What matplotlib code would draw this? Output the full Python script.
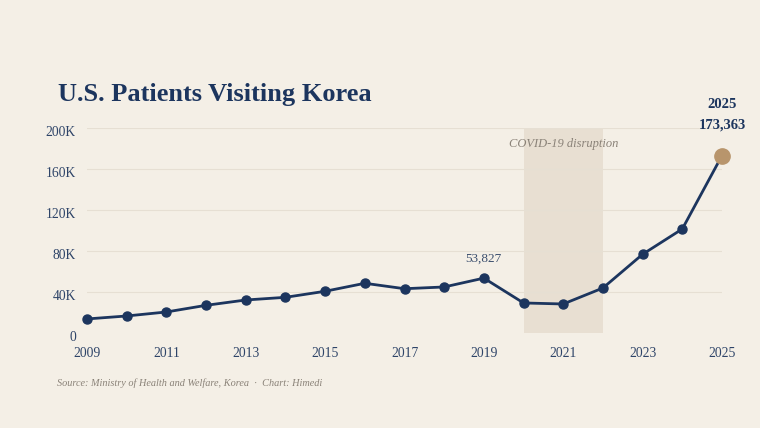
import matplotlib
matplotlib.use("Agg")
import matplotlib.pyplot as plt
from matplotlib.ticker import FuncFormatter
from matplotlib.transforms import ScaledTranslation

years = list(range(2009, 2026))
patients = [14000, 16900, 20800, 27300, 32500, 35100, 41000, 48800, 43500,
            45200, 53827, 29600, 28600, 44200, 77100, 101800, 173363]
y_ticks = [0, 40000, 80000, 120000, 160000, 200000]
x_ticks = [2009, 2011, 2013, 2015, 2017, 2019, 2021, 2023, 2025]
covid_span = (2020, 2022)

BG = "#f4efe6"
NAVY = "#1c355e"
TICK = "#2e4468"
GRAY = "#8a8278"
SHADE = "#e8dfd2"
TAN = "#b8956c"
GRID = "#e6dfd3"

plt.rcParams['font.family'] = ['Liberation Serif', 'DejaVu Serif']

fig = plt.figure(figsize=(7.6, 4.28), dpi=100, facecolor=BG)
ax = fig.add_axes([87/760, 1-333.3/428, (722-87)/760, (333.3-128.3)/428])
ax.set_facecolor(BG)

ax.axvspan(covid_span[0], covid_span[1], color=SHADE, zorder=0, lw=0)
for t in y_ticks[1:]:
    ax.axhline(t, color=GRID, lw=0.8, zorder=1)

ax.plot(years[:-1], patients[:-1], color=NAVY, lw=2, marker='o', ms=6.5,
        zorder=3, clip_on=False)
ax.plot(years[-2:], patients[-2:], color=NAVY, lw=2, zorder=3, clip_on=False)
ax.plot([years[-1]], [patients[-1]], 'o', color=TAN, ms=11, zorder=4, clip_on=False)

ax.set_xlim(2009, 2025)
ax.set_ylim(0, 200000)
ax.set_xticks(x_ticks)
ax.set_yticks(y_ticks)
ax.yaxis.set_major_formatter(FuncFormatter(lambda v, p: "0" if v == 0 else f"{int(v/1000)}K"))
ax.tick_params(axis='both', length=0, labelsize=9.8, labelcolor=TICK)
ax.tick_params(axis='x', pad=10)
ax.tick_params(axis='y', pad=8)
for s in ax.spines.values():
    s.set_visible(False)
shift = ScaledTranslation(0, -2.2/72, fig.dpi_scale_trans)
for lab in ax.get_yticklabels():
    lab.set_transform(lab.get_transform() + shift)

ax.annotate(f"{patients[10]:,}", (years[10], patients[10]), xytext=(0, 9.5),
            textcoords='offset points', ha='center', va='bottom',
            fontsize=9.5, color="#3c4f6e")
ax.annotate(f"{years[-1]}", (years[-1], patients[-1]), xytext=(0, 32),
            textcoords='offset points', ha='center', va='bottom',
            fontsize=10.5, fontweight='bold', color=NAVY, annotation_clip=False)
ax.annotate(f"{patients[-1]:,}", (years[-1], patients[-1]), xytext=(0, 17.5),
            textcoords='offset points', ha='center', va='bottom',
            fontsize=10.5, fontweight='bold', color=NAVY, annotation_clip=False)
ax.text(sum(covid_span)/2, 185000, "COVID-19 disruption", ha='center', va='center',
        fontsize=9, style='italic', color=GRAY)

fig.text(58/760, 1-94/428, "U.S. Patients Visiting Korea", ha='left', va='center',
         fontsize=19, fontweight='bold', color=NAVY)
fig.text(57/760, 1-383/428, "Source: Ministry of Health and Welfare, Korea  ·  Chart: Himedi",
         ha='left', va='center', fontsize=7.4, style='italic', color=GRAY)

fig.savefig("out.png", dpi=100, facecolor=BG)
